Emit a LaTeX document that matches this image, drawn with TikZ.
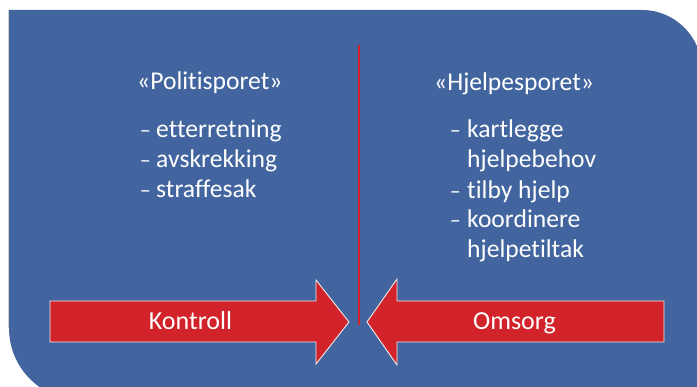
\documentclass[tikz,border=0pt]{standalone}
\usepackage{fontspec}
\setmainfont[Ligatures={NoCommon}]{Carlito}
\definecolor{bgblue}{HTML}{43659F}
\definecolor{arrred}{HTML}{D2232A}
\tikzset{
  txt/.style={text=white, inner sep=0pt, anchor=base west, font=\fontsize{25.6}{30}\selectfont},
  dsh/.style={text=white, inner sep=0pt, anchor=base east, font=\fontsize{22}{30}\selectfont},
  lbl/.style={text=white, inner sep=0pt, anchor=base, font=\fontsize{26}{30}\selectfont},
  bigarrow/.style={fill=arrred, draw=white!85!gray, line width=0.9pt},
}
\begin{document}
\begin{tikzpicture}[x=1pt,y=-1pt]
\useasboundingbox (0,0) rectangle (697,387);
\begin{scope}
\clip (0,0) rectangle (697,387);
\fill[bgblue] (9,10) -- (642,10) .. controls (675,10) and (702,37) .. (702,70)
  -- (702,400) -- (81,400) .. controls (41,400) and (9,368) .. (9,328) -- cycle;
\draw[gray!35, line width=0.8pt] (8.5,10) -- (8.5,328);
\end{scope}
% divider
\coordinate (divtop) at (359,45);
\coordinate (divbot) at (359,325);
\draw[arrred, line width=2.6pt] (divtop) -- (divbot);
% arrows
\draw[bigarrow] (50,301) -- (316,301) -- (316,280) -- (349,322) -- (316,364) -- (316,342) -- (50,342) -- cycle;
\draw[bigarrow] (664,301) -- (397,301) -- (397,279) -- (367,322) -- (397,365) -- (397,342) -- (664,342) -- cycle;
\node[lbl] (kontroll) at (190.5,330) {Kontroll};
\node[lbl] (omsorg) at (514.5,330) {Omsorg};
% left column
\node[txt] (lt) at (137,90) {«Politisporet»};
\node[dsh] (ld1) at (151,138) {–};
\node[txt] (l1) at (156,138) {etterretning};
\node[dsh] (ld2) at (151,168) {–};
\node[txt] (l2) at (156,168) {avskrekking};
\node[dsh] (ld3) at (151,198) {–};
\node[txt] (l3) at (156,198) {straffesak};
% right column
\node[txt] (rt) at (434,91) {«Hjelpesporet»};
\node[dsh] (rd1) at (461,138) {–};
\node[txt] (r1) at (467,138) {kartlegge};
\node[txt] (r1b) at (467,168) {hjelpebehov};
\node[dsh] (rd2) at (461,199) {–};
\node[txt] (r2) at (467,199) {tilby hjelp};
\node[dsh] (rd3) at (461,228) {–};
\node[txt] (r3) at (467,228) {koordinere};
\node[txt] (r3b) at (467,258) {hjelpetiltak};
\end{tikzpicture}
\end{document}
